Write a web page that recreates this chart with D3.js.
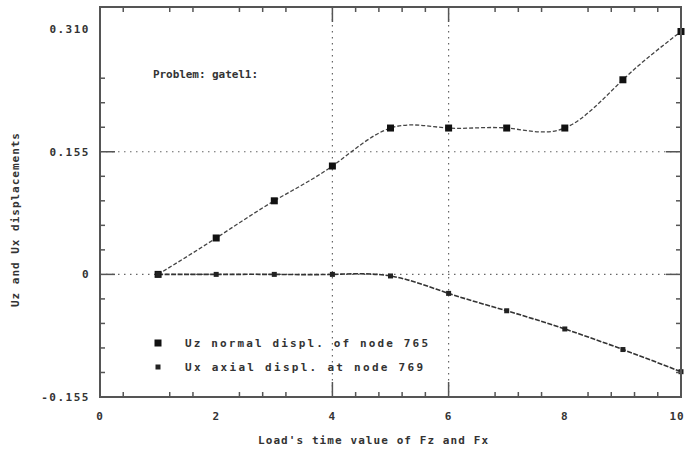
<!DOCTYPE html>
<html>
<head>
<meta charset="utf-8">
<script src="https://cdn.jsdelivr.net/npm/d3@7"></script>
<style>
  body { margin: 0; background: #fff; }
  text { font-family: "DejaVu Sans Mono", monospace; font-size: 11px; fill: #333; font-weight: bold; }
</style>
</head>
<body>
<div id="chart"></div>
<script>
const loadSteps = [1, 2, 3, 4, 5, 6, 7, 8, 9, 10]
const uzNormal  = [0, 0.046, 0.093, 0.137, 0.185, 0.185, 0.185, 0.185, 0.246, 0.307]
const uxAxial   = [0, 0, 0, 0, -0.002, -0.024, -0.046, -0.069, -0.095, -0.123]

const yTickLabels = [[0.310, '0.310'], [0.155, '0.155'], [0, '0'], [-0.155, '-0.155']]
const xTickLabels = [0, 2, 4, 6, 8, 10]
const xGrid = [4, 6]
const yGrid = [0.155, 0]
const xMinor = [0.4, 1.2, 1.6, 2.4, 2.8, 3.2, 4.4, 4.8, 5.2, 5.6, 6.8, 7.2, 7.6, 8.4, 8.8, 9.2, 9.6]
const yMinor = [-0.124, -0.093, -0.062, -0.031, 0.031, 0.062, 0.093, 0.124, 0.186, 0.217, 0.248]

const W = 686, H = 465
const PLOT = { left: 100, right: 681, top: 7, bottom: 397 }

const svg = d3.select('#chart').append('svg').attr('width', W).attr('height', H)

const x = d3.scaleLinear().domain([0, 10]).range([PLOT.left, PLOT.right])
const y = d3.scaleLinear().domain([-0.155, 0.338]).range([PLOT.bottom, PLOT.top])

// ── grid ─────────────────────────────────────────────────────
const gGrid = svg.append('g').attr('stroke', '#666').attr('stroke-width', 1.2).attr('stroke-dasharray', '1.5 4.5')
gGrid.selectAll('.vg').data(xGrid).join('line')
  .attr('x1', d => x(d)).attr('x2', d => x(d)).attr('y1', PLOT.top).attr('y2', PLOT.bottom)
gGrid.selectAll('.hg').data(yGrid).join('line').attr('class', 'hg')
  .attr('x1', PLOT.left).attr('x2', PLOT.right).attr('y1', d => y(d)).attr('y2', d => y(d))

// ── series ───────────────────────────────────────────────────
const s1 = loadSteps.map((t, i) => [t, uzNormal[i]])
const s2 = loadSteps.map((t, i) => [t, uxAxial[i]])
const line = d3.line().x(d => x(d[0])).y(d => y(d[1])).curve(d3.curveNatural)

svg.append('path').datum(s1).attr('d', line)
  .attr('fill', 'none').attr('stroke', '#444').attr('stroke-width', 1.3).attr('stroke-dasharray', '4 2')
svg.append('path').datum(s2).attr('d', line)
  .attr('fill', 'none').attr('stroke', '#333').attr('stroke-width', 1.6).attr('stroke-dasharray', '5 1.5')

svg.append('g').selectAll('rect').data(s1).join('rect')
  .attr('x', d => x(d[0]) - 3.5).attr('y', d => y(d[1]) - 3.5)
  .attr('width', 7).attr('height', 7).attr('fill', '#111')
svg.append('g').selectAll('rect').data(s2).join('rect')
  .attr('x', d => x(d[0]) - 2.5).attr('y', d => y(d[1]) - 2.5)
  .attr('width', 5).attr('height', 5).attr('fill', '#222')

// ── frame and ticks ──────────────────────────────────────────
svg.append('rect')
  .attr('x', PLOT.left).attr('y', PLOT.top)
  .attr('width', PLOT.right - PLOT.left).attr('height', PLOT.bottom - PLOT.top)
  .attr('fill', 'none').attr('stroke', '#555').attr('stroke-width', 2)

const gTicks = svg.append('g').attr('stroke', '#555').attr('stroke-width', 1.5)
const vTick = (vals, len) => {
  gTicks.append('g').selectAll('line').data(vals).join('line')
    .attr('x1', d => x(d)).attr('x2', d => x(d)).attr('y1', PLOT.bottom).attr('y2', PLOT.bottom - len)
  gTicks.append('g').selectAll('line').data(vals).join('line')
    .attr('x1', d => x(d)).attr('x2', d => x(d)).attr('y1', PLOT.top).attr('y2', PLOT.top + len)
}
const hTick = (vals, len) => {
  gTicks.append('g').selectAll('line').data(vals).join('line')
    .attr('x1', PLOT.left).attr('x2', PLOT.left + len).attr('y1', d => y(d)).attr('y2', d => y(d))
  gTicks.append('g').selectAll('line').data(vals).join('line')
    .attr('x1', PLOT.right).attr('x2', PLOT.right - len).attr('y1', d => y(d)).attr('y2', d => y(d))
}
vTick(xMinor, 5)
vTick(xGrid, 15)
hTick(yMinor, 5)
hTick(yGrid, 15)

// ── tick labels ──────────────────────────────────────────────
svg.append('g').selectAll('text').data(yTickLabels).join('text')
  .attr('x', 90).attr('y', d => y(d[0]) + 4)
  .attr('text-anchor', 'end').attr('letter-spacing', 1.5).text(d => d[1])
// last label kept inside the window
svg.append('g').selectAll('text').data(xTickLabels).join('text')
  .attr('x', d => Math.min(x(d), W - 9)).attr('y', 420)
  .attr('text-anchor', 'middle').attr('letter-spacing', 1).text(d => d)

// ── labels ───────────────────────────────────────────────────
const label = (txt, px, py, len) => svg.append('text')
  .attr('x', px).attr('y', py).attr('textLength', len).attr('lengthAdjust', 'spacing').text(txt)

label('Problem: gatel1:', 153, 78, 105)
label("Load's time value of Fz and Fx", 258, 444, 230)
label('Uz normal displ. of node 765', 185, 347, 243)
label('Ux axial displ. at node 769', 185, 371, 238)

svg.append('text')
  .attr('transform', 'translate(19,307) rotate(-90)')
  .attr('textLength', 174).attr('lengthAdjust', 'spacing')
  .text('Uz and Ux displacements')

svg.append('rect').attr('x', 158 - 3.5).attr('y', 343 - 3.5).attr('width', 7).attr('height', 7).attr('fill', '#111')
svg.append('rect').attr('x', 158 - 2.5).attr('y', 367 - 2.5).attr('width', 5).attr('height', 5).attr('fill', '#222')
</script>
</body>
</html>
